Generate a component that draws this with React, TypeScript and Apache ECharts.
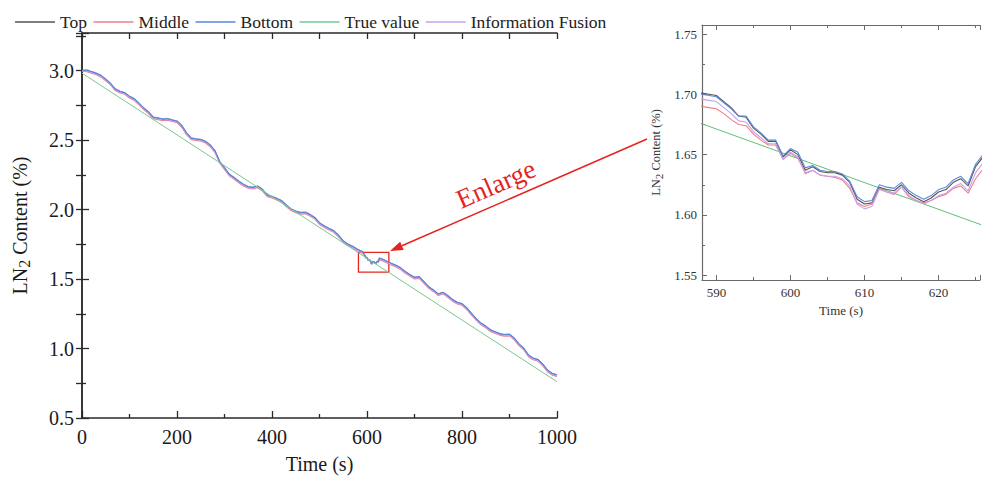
import React, { useEffect, useRef } from "react";
import * as echarts from "echarts";

// ---------------- DATA ----------------
const legendNames = ["Top", "Middle", "Bottom", "True value", "Information Fusion"];
const seriesColors = ["#555555", "#f07f84", "#5a88da", "#79c98b", "#c9a0ee"];

// coarse samples every 10 s, from 0 s to 1000 s
const coarseStep = 10;
const topCoarse = [
  3.000, 3.000, 2.990, 2.978, 2.962, 2.935, 2.905, 2.865, 2.848, 2.838,
  2.812, 2.795, 2.762, 2.728, 2.700, 2.662, 2.656, 2.648, 2.652, 2.642,
  2.634, 2.602, 2.548, 2.512, 2.506, 2.502, 2.488, 2.462, 2.420, 2.342,
  2.298, 2.252, 2.228, 2.202, 2.178, 2.162, 2.158, 2.166, 2.142, 2.102,
  2.092, 2.078, 2.062, 2.030, 2.002, 1.986, 1.976, 1.978, 1.962, 1.940,
  1.902, 1.880, 1.862, 1.845, 1.812, 1.772, 1.748, 1.732, 1.712, 1.699,
  1.654, 1.609, 1.619, 1.645, 1.628, 1.612, 1.598, 1.580, 1.552, 1.530,
  1.510, 1.514, 1.478, 1.442, 1.418, 1.390, 1.402, 1.378, 1.350, 1.330,
  1.320, 1.290, 1.250, 1.212, 1.180, 1.158, 1.132, 1.118, 1.104, 1.098,
  1.100, 1.072, 1.030, 1.000, 0.950, 0.928, 0.918, 0.885, 0.842, 0.818,
  0.808,
];
const middleCoarse = [
  2.996, 2.992, 2.981, 2.970, 2.953, 2.926, 2.897, 2.856, 2.839, 2.829,
  2.803, 2.786, 2.754, 2.719, 2.690, 2.653, 2.647, 2.640, 2.643, 2.633,
  2.625, 2.592, 2.539, 2.503, 2.497, 2.493, 2.479, 2.452, 2.410, 2.333,
  2.289, 2.243, 2.219, 2.193, 2.170, 2.153, 2.149, 2.157, 2.133, 2.093,
  2.083, 2.069, 2.053, 2.021, 1.993, 1.977, 1.967, 1.969, 1.953, 1.931,
  1.893, 1.871, 1.853, 1.836, 1.803, 1.763, 1.739, 1.723, 1.703, 1.688,
  1.651, 1.607, 1.615, 1.636, 1.619, 1.603, 1.589, 1.571, 1.543, 1.521,
  1.501, 1.505, 1.469, 1.433, 1.409, 1.381, 1.393, 1.369, 1.341, 1.321,
  1.311, 1.281, 1.241, 1.203, 1.171, 1.149, 1.123, 1.109, 1.095, 1.089,
  1.091, 1.063, 1.021, 0.991, 0.941, 0.919, 0.909, 0.876, 0.833, 0.809,
  0.799,
];
const bottomCoarse = [
  3.002, 3.003, 2.993, 2.981, 2.965, 2.938, 2.908, 2.868, 2.851, 2.841,
  2.815, 2.798, 2.765, 2.731, 2.703, 2.665, 2.659, 2.651, 2.655, 2.645,
  2.637, 2.605, 2.551, 2.515, 2.509, 2.505, 2.491, 2.465, 2.423, 2.345,
  2.301, 2.255, 2.231, 2.205, 2.181, 2.165, 2.161, 2.169, 2.145, 2.105,
  2.095, 2.081, 2.065, 2.033, 2.005, 1.989, 1.979, 1.981, 1.965, 1.943,
  1.905, 1.883, 1.865, 1.848, 1.815, 1.775, 1.751, 1.735, 1.714, 1.698,
  1.655, 1.611, 1.621, 1.647, 1.631, 1.615, 1.601, 1.583, 1.555, 1.533,
  1.513, 1.517, 1.481, 1.445, 1.421, 1.393, 1.405, 1.381, 1.353, 1.333,
  1.323, 1.293, 1.253, 1.215, 1.183, 1.161, 1.135, 1.121, 1.107, 1.101,
  1.103, 1.075, 1.033, 1.003, 0.953, 0.931, 0.921, 0.888, 0.845, 0.821,
  0.811,
];
const fusionCoarse = [
  2.999, 2.997, 2.986, 2.974, 2.958, 2.931, 2.901, 2.861, 2.844, 2.834,
  2.808, 2.791, 2.758, 2.724, 2.696, 2.658, 2.652, 2.644, 2.648, 2.638,
  2.630, 2.598, 2.544, 2.508, 2.502, 2.498, 2.484, 2.458, 2.416, 2.338,
  2.294, 2.248, 2.224, 2.198, 2.174, 2.158, 2.154, 2.162, 2.138, 2.098,
  2.088, 2.074, 2.058, 2.026, 1.998, 1.982, 1.972, 1.974, 1.958, 1.936,
  1.898, 1.876, 1.858, 1.841, 1.808, 1.768, 1.744, 1.728, 1.707, 1.694,
  1.652, 1.605, 1.616, 1.640, 1.624, 1.608, 1.594, 1.576, 1.548, 1.526,
  1.506, 1.510, 1.474, 1.438, 1.414, 1.386, 1.398, 1.374, 1.346, 1.326,
  1.316, 1.286, 1.246, 1.208, 1.176, 1.154, 1.128, 1.114, 1.100, 1.094,
  1.096, 1.068, 1.026, 0.996, 0.946, 0.924, 0.914, 0.881, 0.838, 0.814,
  0.804,
];

// detailed samples every 1 s inside the enlarged window
const zoomTime = [
  588, 589, 590, 591, 592, 593, 594, 595, 596, 597, 598, 599, 600,
  601, 602, 603, 604, 605, 606, 607, 608, 609, 610, 611, 612, 613,
  614, 615, 616, 617, 618, 619, 620, 621, 622, 623, 624, 625, 626,
];
const topZoom = [
  1.701, 1.700, 1.699, 1.694, 1.689, 1.682, 1.681, 1.672, 1.667, 1.661, 1.661, 1.648, 1.654,
  1.650, 1.637, 1.640, 1.636, 1.635, 1.635, 1.633, 1.627, 1.613, 1.609, 1.610, 1.623, 1.621,
  1.620, 1.625, 1.618, 1.614, 1.611, 1.614, 1.619, 1.621, 1.627, 1.630, 1.624, 1.640, 1.648,
];
const bottomZoom = [
  1.700, 1.699, 1.698, 1.693, 1.688, 1.682, 1.682, 1.673, 1.668, 1.662, 1.662, 1.649, 1.655,
  1.652, 1.639, 1.641, 1.637, 1.636, 1.636, 1.634, 1.628, 1.615, 1.611, 1.612, 1.625, 1.623,
  1.622, 1.627, 1.620, 1.616, 1.613, 1.616, 1.621, 1.623, 1.629, 1.632, 1.626, 1.642, 1.650,
];
const fusionZoom = [
  1.696, 1.695, 1.694, 1.689, 1.684, 1.678, 1.677, 1.669, 1.664, 1.659, 1.659, 1.646, 1.652,
  1.648, 1.634, 1.637, 1.633, 1.632, 1.632, 1.630, 1.624, 1.609, 1.605, 1.607, 1.621, 1.619,
  1.618, 1.623, 1.616, 1.612, 1.609, 1.612, 1.616, 1.618, 1.623, 1.626, 1.620, 1.635, 1.643,
];
const middleZoom = [
  1.690, 1.689, 1.688, 1.684, 1.679, 1.675, 1.674, 1.667, 1.662, 1.658, 1.658, 1.646, 1.651,
  1.647, 1.635, 1.637, 1.633, 1.632, 1.631, 1.629, 1.622, 1.610, 1.607, 1.609, 1.622, 1.619,
  1.617, 1.623, 1.615, 1.612, 1.610, 1.612, 1.615, 1.617, 1.622, 1.624, 1.618, 1.630, 1.638,
];

// true value: straight line
const trueTime = [0, 1000];
const trueValue = [2.981, 0.761];

// enlarged window marked on the main plot
const boxTime = [582, 646];
const boxValue = [1.692, 1.549];

// ---------------- HELPERS ----------------
const FONT = '"Liberation Serif", "Times New Roman", serif';

function mergeSeries(coarse: number[], zoom: number[]): number[][] {
  const lo = zoomTime[0];
  const hi = zoomTime[zoomTime.length - 1];
  const pts: number[][] = [];
  coarse.forEach((v, i) => {
    const t = i * coarseStep;
    if (t < lo || t > hi) pts.push([t, v]);
  });
  zoom.forEach((v, i) => pts.push([zoomTime[i], v]));
  pts.sort((a, b) => a[0] - b[0]);
  return pts;
}

const isMultiple = (v: number, step: number) => Math.abs(v / step - Math.round(v / step)) < 1e-6;

export default function App() {
  const ref = useRef<HTMLDivElement>(null);

  useEffect(() => {
    if (!ref.current) return;
    const chart = echarts.init(ref.current, undefined, { renderer: "svg" });

    const measured = [
      { name: "Top", data: mergeSeries(topCoarse, topZoom), color: seriesColors[0] },
      { name: "Middle", data: mergeSeries(middleCoarse, middleZoom), color: seriesColors[1] },
      { name: "Information Fusion", data: mergeSeries(fusionCoarse, fusionZoom), color: seriesColors[4] },
      { name: "Bottom", data: mergeSeries(bottomCoarse, bottomZoom), color: seriesColors[2] },
    ];
    const truePts = trueTime.map((t, i) => [t, trueValue[i]]);

    const mainAxisLine = { lineStyle: { color: "#2a2a2a", width: 1.5 } };
    const insetAxisLine = { lineStyle: { color: "#6a6a6a", width: 1.2 } };

    const series: any[] = [];
    // main plot
    measured.forEach((s) =>
      series.push({
        type: "line", name: s.name, xAxisIndex: 0, yAxisIndex: 0, data: s.data,
        showSymbol: false, symbol: "none", lineStyle: { color: s.color, width: 1.2 },
        itemStyle: { color: s.color },
      })
    );
    series.push({
      type: "line", name: "True value", xAxisIndex: 0, yAxisIndex: 0, data: truePts,
      showSymbol: false, symbol: "none", lineStyle: { color: seriesColors[3], width: 1 },
      itemStyle: { color: seriesColors[3] },
      markArea: {
        silent: true,
        label: { show: false },
        itemStyle: { color: "rgba(0,0,0,0)", borderColor: "#e52420", borderWidth: 1.3 },
        data: [[{ coord: [boxTime[0], boxValue[0]] }, { coord: [boxTime[1], boxValue[1]] }]],
      },
    });
    // inset
    series.push({
      type: "line", name: "True value", xAxisIndex: 2, yAxisIndex: 2, data: truePts,
      showSymbol: false, symbol: "none", lineStyle: { color: "#5fbf74", width: 1 },
      itemStyle: { color: seriesColors[3] },
    });
    measured.forEach((s) =>
      series.push({
        type: "line", name: s.name, xAxisIndex: 2, yAxisIndex: 2, data: s.data,
        showSymbol: false, symbol: "none", lineStyle: { color: s.color, width: 1.1 },
        itemStyle: { color: s.color },
      })
    );

    // arrow geometry
    const start = [647, 139];
    const tip = [390, 251];
    const dx = tip[0] - start[0];
    const dy = tip[1] - start[1];
    const len = Math.sqrt(dx * dx + dy * dy);
    const ux = dx / len, uy = dy / len;
    const headLen = 13, headHalf = 4.5;
    const bx = tip[0] - ux * headLen, by = tip[1] - uy * headLen;
    const nx = -uy, ny = ux;
    const angle = Math.atan2(dy, -dx);

    const option: any = {
      animation: false,
      backgroundColor: "#ffffff",
      textStyle: { fontFamily: FONT },
      legend: {
        left: 10,
        top: 8,
        itemWidth: 40,
        itemHeight: 1.5,
        itemGap: 6.5,
        icon: "rect",
        textStyle: { fontFamily: FONT, fontSize: 17.5, color: "#222" },
        data: legendNames,
      },
      grid: [
        { left: 82, top: 33, width: 475, height: 385 },
        { left: 702, top: 25, width: 283, height: 255 },
      ],
      xAxis: [
        {
          gridIndex: 0, type: "value", min: 0, max: 1000, interval: 200,
          axisLine: mainAxisLine,
          axisTick: { inside: true, length: 7, lineStyle: { color: "#2a2a2a", width: 1.3 } },
          minorTick: { show: true, splitNumber: 2, length: 4, lineStyle: { color: "#2a2a2a", width: 1.3 } },
          splitLine: { show: false },
          axisLabel: {
            fontFamily: FONT, fontSize: 20, color: "#1a1a1a", margin: 9,
            formatter: (v: number) => String(Math.round(v)),
          },
          name: "Time (s)", nameLocation: "middle", nameGap: 36,
          nameTextStyle: { fontFamily: FONT, fontSize: 20, color: "#1a1a1a" },
        },
        {
          gridIndex: 0, type: "value", position: "top", min: 0, max: 1000, interval: 100,
          axisLine: mainAxisLine,
          axisTick: { inside: true, length: 6, lineStyle: { color: "#2a2a2a", width: 1.3 } },
          axisLabel: { show: false }, splitLine: { show: false },
        },
        {
          gridIndex: 1, type: "value", min: 588.05, max: 625.6, splitNumber: 4,
          axisLine: insetAxisLine,
          axisTick: { inside: true, length: 5, lineStyle: { color: "#6a6a6a" } },
          minorTick: { show: true, splitNumber: 2, length: 3, lineStyle: { color: "#6a6a6a" } },
          splitLine: { show: false },
          axisLabel: {
            fontFamily: FONT, fontSize: 13, color: "#333", margin: 6,
            formatter: (v: number) => (isMultiple(v, 10) ? String(Math.round(v)) : ""),
          },
          name: "Time (s)", nameLocation: "middle", nameGap: 22,
          nameTextStyle: { fontFamily: FONT, fontSize: 13, color: "#333" },
        },
        {
          gridIndex: 1, type: "value", position: "top", min: 588.05, max: 625.6, splitNumber: 4,
          axisLine: insetAxisLine,
          axisTick: { inside: true, length: 5, lineStyle: { color: "#6a6a6a" } },
          minorTick: { show: true, splitNumber: 2, length: 3, lineStyle: { color: "#6a6a6a" } },
          axisLabel: { show: false }, splitLine: { show: false },
        },
      ],
      yAxis: [
        {
          gridIndex: 0, type: "value", min: 0.5, max: 3.27, interval: 0.5,
          axisLine: { show: true, ...mainAxisLine },
          axisTick: { show: true, inside: true, length: 7, lineStyle: { color: "#2a2a2a", width: 1.3 } },
          minorTick: { show: true, splitNumber: 2, length: 4, lineStyle: { color: "#2a2a2a", width: 1.3 } },
          splitLine: { show: false },
          axisLabel: {
            fontFamily: FONT, fontSize: 20, color: "#1a1a1a", margin: 8,
            formatter: (v: number) => (isMultiple(v, 0.5) ? v.toFixed(1) : ""),
          },
          name: "LN{s|2} Content (%)", nameLocation: "middle", nameGap: 50, nameRotate: 90,
          nameTextStyle: {
            fontFamily: FONT, fontSize: 20, color: "#1a1a1a",
            rich: { s: { fontFamily: FONT, fontSize: 16, color: "#1a1a1a", padding: [9, 0, 0, 0] } },
          },
        },
        {
          gridIndex: 0, type: "value", position: "right", min: 0.5, max: 3.27, interval: 0.25,
          axisLine: { show: true, ...mainAxisLine },
          axisTick: { show: true, inside: true, length: 6, lineStyle: { color: "#2a2a2a", width: 1.3 } },
          axisLabel: { show: false }, splitLine: { show: false },
        },
        {
          gridIndex: 1, type: "value", min: 1.546, max: 1.7575, splitNumber: 4,
          axisLine: { show: true, ...insetAxisLine },
          axisTick: { show: true, inside: true, length: 5, lineStyle: { color: "#6a6a6a" } },
          minorTick: { show: true, splitNumber: 2, length: 3, lineStyle: { color: "#6a6a6a" } },
          splitLine: { show: false },
          axisLabel: {
            fontFamily: FONT, fontSize: 13, color: "#333", margin: 5,
            formatter: (v: number) => (isMultiple(v, 0.05) ? v.toFixed(2) : ""),
          },
          name: "LN{s|2} Content (%)", nameLocation: "middle", nameGap: 38, nameRotate: 90,
          nameTextStyle: {
            fontFamily: FONT, fontSize: 12.5, color: "#333",
            rich: { s: { fontFamily: FONT, fontSize: 11, color: "#333", padding: [6, 0, 0, 0] } },
          },
        },
      ],
      graphic: [
        {
          type: "line",
          shape: { x1: start[0], y1: start[1], x2: bx, y2: by },
          style: { stroke: "#e52420", lineWidth: 1.5 },
          silent: true,
        },
        {
          type: "polygon",
          shape: {
            points: [
              [tip[0], tip[1]],
              [bx + nx * headHalf, by + ny * headHalf],
              [bx - nx * headHalf, by - ny * headHalf],
            ],
          },
          style: { fill: "#e52420" },
          silent: true,
        },
        {
          type: "text",
          x: 496,
          y: 184,
          rotation: angle,
          style: {
            text: "Enlarge",
            fill: "#e52420",
            font: `27px ${FONT}`,
            textAlign: "center",
            textVerticalAlign: "middle",
          },
          silent: true,
        },
      ],
      series,
    };

    chart.setOption(option);
    return () => chart.dispose();
  }, []);

  return (
    <div
      ref={ref}
      style={{ position: "absolute", left: 0, top: 0, width: 983, height: 479, background: "#fff" }}
    />
  );
}
